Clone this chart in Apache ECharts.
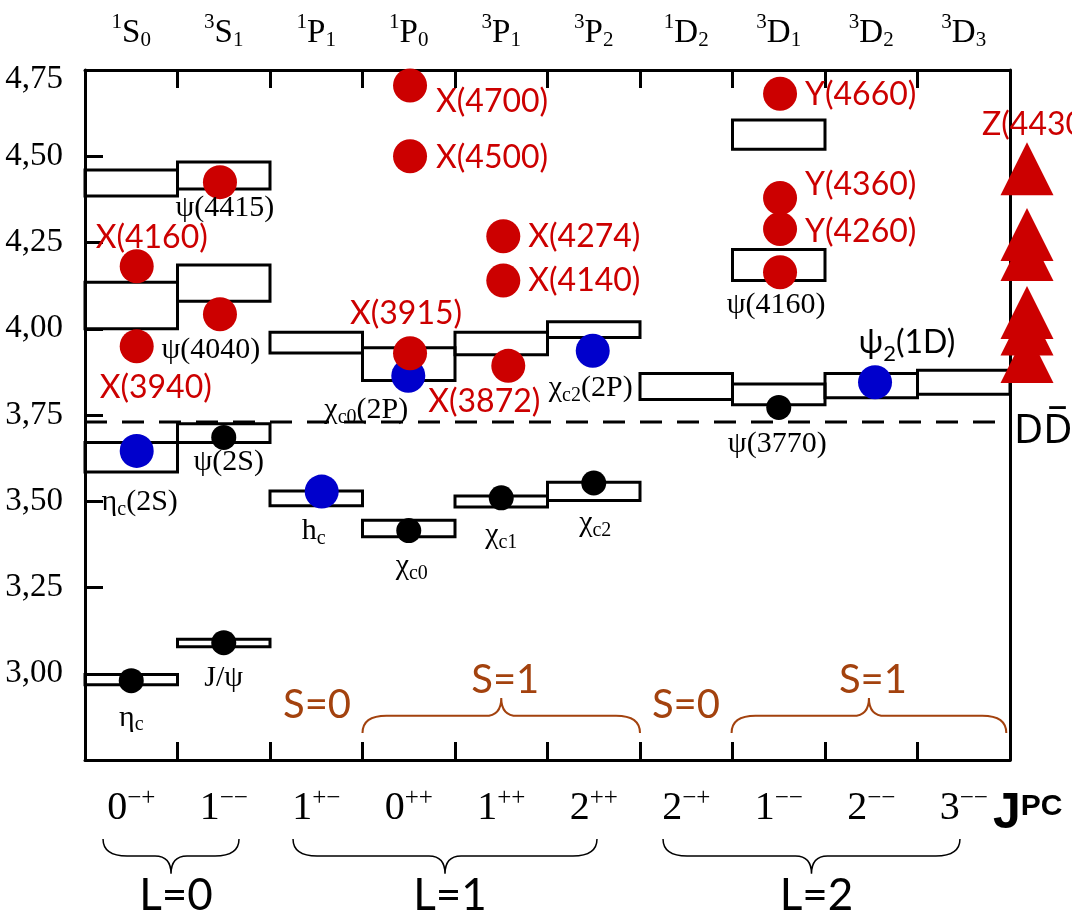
<!DOCTYPE html>
<html><head><meta charset="utf-8">
<script src="https://cdn.jsdelivr.net/npm/echarts@6/dist/echarts.min.js"></script>
<style>html,body{margin:0;padding:0;background:#fff}#c{width:1072px;height:911px}</style>
</head><body><div id="c"></div>
<script>
// ---------------- DATA ----------------
const termSymbols = [['1','S','0'],['3','S','1'],['1','P','1'],['1','P','0'],['3','P','1'],['3','P','2'],['1','D','2'],['3','D','1'],['3','D','2'],['3','D','3']];
const jpcLabels = [['0','−+'],['1','−−'],['1','+−'],['0','++'],['1','++'],['2','++'],['2','−+'],['1','−−'],['2','−−'],['3','−−']];
const massAxis = { min: 2.75, max: 4.75, step: 0.25 };
// predicted levels: [column, low mass, high mass] (GeV)
const levelBoxes = [
  [0, 4.385, 4.46], [0, 4.00, 4.135], [0, 3.585, 3.67], [0, 2.968, 2.998],
  [1, 4.405, 4.483], [1, 4.08, 4.185], [1, 3.67, 3.725], [1, 3.078, 3.10],
  [2, 3.93, 3.99], [2, 3.487, 3.53],
  [3, 3.85, 3.945], [3, 3.397, 3.445],
  [4, 3.925, 3.99], [4, 3.483, 3.515],
  [5, 3.975, 4.02], [5, 3.502, 3.555],
  [6, 3.795, 3.87],
  [7, 4.52, 4.605], [7, 4.14, 4.23], [7, 3.78, 3.84],
  [8, 3.80, 3.87],
  [9, 3.81, 3.88]
];
// [name, column position, mass]
const conventionalStates = [
  ['η_{c}', 0.5, 2.98], ['J/ψ', 1.5, 3.09], ['ψ(2S)', 1.5, 3.685],
  ['χ_{c0}', 3.5, 3.415], ['χ_{c1}', 4.5, 3.51], ['χ_{c2}', 5.5, 3.553], ['ψ(3770)', 7.5, 3.772]
];
const newConventionalStates = [
  ['η_{c}(2S)', 0.559, 3.646], ['h_{c}', 2.559, 3.528], ['χ_{c0}(2P)', 3.495, 3.8635],
  ['χ_{c2}(2P)', 5.489, 3.936], ['ψ_{2}(1D)', 8.541, 3.845]
];
const exoticStates = [
  ['X(4160)', 0.559, 4.181], ['X(3940)', 0.559, 3.949],
  ['ψ(4415)', 1.459, 4.425], ['ψ(4040)', 1.459, 4.042],
  ['X(4700)', 3.514, 4.705], ['X(4500)', 3.514, 4.50], ['X(3915)', 3.514, 3.929],
  ['X(4274)', 4.522, 4.268], ['X(4140)', 4.522, 4.14], ['X(3872)', 4.576, 3.8925],
  ['Y(4660)', 7.514, 4.681], ['Y(4360)', 7.514, 4.379], ['Y(4260)', 7.514, 4.289], ['ψ(4160)', 7.514, 4.164]
];
const chargedStateName = 'Z(4430)';
const chargedStateColumn = 10.184;
const chargedStateMasses = [4.4635, 4.273, 4.215, 4.047, 3.999, 3.9195];
const ddThreshold = 3.73;
const spinBraces = [['S=1', 3.0, 6.0], ['S=1', 6.99, 9.96]];
const spinSingles = [['S=0', 2.508], ['S=0', 6.497]];
const orbitalBraces = [['L=0', 0.195, 1.665], ['L=1', 2.249, 5.535], ['L=2', 6.249, 9.459]];

// ---------------- LAYOUT / STYLE ----------------
const RED = '#CC0000', BLUE = '#0000CC', BROWN = '#A3420E';
const SERIF = 'Liberation Serif', SANS = 'Lato';
const spinY = { end: 2.828, mid: 2.878, tip: 2.93, text: 2.981, single: 2.909 };
const orbitY = { end: 2.521, mid: 2.472, tip: 2.42, text: 2.357 };
const jpcAnchor = { x: 9.816, y: 2.594 };
// label offsets in px from marker centre: [dx, dy, align, kind]
const labelLayout = {
  'η_{c}': [0, 37, 'center', 'serif'], 'J/ψ': [0, 35, 'center', 'serif'], 'ψ(2S)': [5, 25, 'center', 'serif'],
  'χ_{c0}': [3, 36, 'center', 'serif'], 'χ_{c1}': [0, 37, 'center', 'serif'], 'χ_{c2}': [1.5, 40, 'center', 'serif'],
  'ψ(3770)': [-1.5, 37, 'center', 'serif'],
  'η_{c}(2S)': [3, 51, 'center', 'serif'], 'h_{c}': [-8, 40, 'center', 'serif'], 'χ_{c0}(2P)': [-42, 34, 'center', 'serif'],
  'χ_{c2}(2P)': [-2, 37, 'center', 'serif'], 'ψ_{2}(1D)': [32, -40, 'center', 'sans'],
  'X(4160)': [15, -29, 'center', 'red'], 'X(3940)': [19, 41, 'center', 'red'],
  'ψ(4415)': [5, 26, 'center', 'serif'], 'ψ(4040)': [-9, 36, 'center', 'serif'],
  'X(4700)': [26, 16, 'left', 'red'], 'X(4500)': [26, 1, 'left', 'red'], 'X(3915)': [-4, -40, 'center', 'red'],
  'X(4274)': [25, 0, 'left', 'red'], 'X(4140)': [25, 0, 'left', 'red'], 'X(3872)': [-24, 36, 'center', 'red'],
  'Y(4660)': [25, 1, 'left', 'red'], 'Y(4360)': [25, -13, 'left', 'red'], 'Y(4260)': [25, 3, 'left', 'red'],
  'ψ(4160)': [-4, 33, 'center', 'serif'],
  'Z(4430)': [-45, -44, 'left', 'red']
};

const richSets = {
  serif: { m: { fontFamily: SERIF, fontSize: 30, lineHeight: 32, color: '#000' },
           s: { fontFamily: SERIF, fontSize: 20, height: 17, verticalAlign: 'bottom', color: '#000' } },
  sans:  { m: { fontFamily: SANS, fontSize: 32, lineHeight: 34, color: '#000' },
           s: { fontFamily: SANS, fontSize: 22, height: 10, verticalAlign: 'bottom', color: '#000' } },
  red:   { m: { fontFamily: SANS, fontSize: 32, lineHeight: 34, color: RED },
           s: { fontFamily: SANS, fontSize: 22, height: 10, verticalAlign: 'bottom', color: RED } }
};

function richify(str) {
  const parts = str.split(/_\{([^}]*)\}/);
  let out = '';
  parts.forEach((p, i) => { if (p) out += (i % 2 ? '{s|' : '{m|') + p + '}'; });
  return out;
}

function stateData(list) {
  return list.map(([name, x, mass]) => {
    const L = labelLayout[name];
    return {
      name, value: [x, mass],
      label: {
        show: true, position: 'inside', offset: [L[0], L[1]], align: L[2], verticalAlign: 'middle',
        formatter: richify(name), rich: richSets[L[3]], color: '#000', textBorderWidth: 0, opacity: 1
      }
    };
  });
}

const topRich = {
  m: { fontFamily: SERIF, fontSize: 33, lineHeight: 36, color: '#000' },
  sup: { fontFamily: SERIF, fontSize: 21, height: 14, verticalAlign: 'top', color: '#000' },
  sub: { fontFamily: SERIF, fontSize: 21, height: 21, verticalAlign: 'bottom', color: '#000' }
};
const bottomRich = {
  m: { fontFamily: SERIF, fontSize: 40, lineHeight: 44, color: '#000' },
  sup: { fontFamily: SERIF, fontSize: 25, height: 24, verticalAlign: 'top', color: '#000' }
};

function bracePath(x1, x2, yE, yH, yT, d1, d2) {
  const xc = (x1 + x2) / 2;
  return `M${x1} ${yE} Q${x1} ${yH} ${x1 + d1} ${yH} L${xc - d2} ${yH} Q${xc} ${yH} ${xc} ${yT} ` +
         `Q${xc} ${yH} ${xc + d2} ${yH} L${x2 - d1} ${yH} Q${x2} ${yH} ${x2} ${yE}`;
}

function braceSeries(list, Y, color, width, font, textDx) {
  return {
    type: 'custom', xAxisIndex: 0, yAxisIndex: 0, silent: true, clip: false,
    data: list.map(b => [b[1], b[2], Y.tip]),
    encode: { x: [0, 1], y: 2 },
    renderItem(params, api) {
      const a = api.coord([api.value(0), Y.end]);
      const b = api.coord([api.value(1), Y.end]);
      const yH = api.coord([0, Y.mid])[1];
      const yT = api.coord([0, Y.tip])[1];
      const yText = api.coord([0, Y.text])[1];
      const xc = (a[0] + b[0]) / 2;
      return {
        type: 'group', children: [
          { type: 'path', shape: { pathData: bracePath(a[0], b[0], a[1], yH, yT, 24, 16) },
            style: { fill: 'none', stroke: color, lineWidth: width } },
          { type: 'text', x: xc + textDx, y: yText,
            style: { text: list[params.dataIndex][0], font: font, fill: color, align: 'center', verticalAlign: 'middle' } }
        ]
      };
    }
  };
}

const option = {
  animation: false,
  backgroundColor: '#fff',
  grid: { left: 85, right: 62, top: 70, bottom: 151, containLabel: false, outerBoundsMode: 'none' },
  xAxis: [
    { type: 'value', min: 0, max: 10, show: false, position: 'bottom' },
    { type: 'category', position: 'bottom', boundaryGap: true,
      data: jpcLabels.map(j => `{m|${j[0]}}{sup|${j[1]}}`),
      axisLine: { show: true, onZero: false, lineStyle: { color: '#000', width: 3 } },
      axisTick: { show: true, inside: true, length: 18, lineStyle: { color: '#000', width: 3 } },
      axisLabel: { interval: 0, margin: 26, rich: bottomRich, color: '#000' },
      splitLine: { show: false } },
    { type: 'category', position: 'top', boundaryGap: true,
      data: termSymbols.map(t => `{sup|${t[0]}}{m|${t[1]}}{sub|${t[2]}}`),
      axisLine: { show: true, onZero: false, lineStyle: { color: '#000', width: 3 } },
      axisTick: { show: true, inside: true, length: 18, lineStyle: { color: '#000', width: 3 } },
      axisLabel: { interval: 0, margin: 19, rich: topRich, color: '#000' },
      splitLine: { show: false } }
  ],
  yAxis: [
    { type: 'value', position: 'left', min: massAxis.min, max: massAxis.max, interval: massAxis.step,
      axisLine: { show: true, onZero: false, lineStyle: { color: '#000', width: 3 } },
      axisTick: { show: true, inside: true, length: 18, lineStyle: { color: '#000', width: 3 } },
      splitLine: { show: false },
      axisLabel: { margin: 22, color: '#000', fontFamily: SERIF, fontSize: 33,
        formatter: v => {
          if (Math.abs(v - massAxis.min) < 1e-6) return '';
          const s = v.toFixed(2).replace('.', ',');
          return Math.abs(v - massAxis.max) < 1e-6 ? `{t|${s}}` : s;
        },
        rich: { t: { fontFamily: SERIF, fontSize: 33, color: '#000', padding: [19, 0, 0, 0] } } } },
    { type: 'value', position: 'right', min: massAxis.min, max: massAxis.max, interval: massAxis.step,
      axisLine: { show: true, onZero: false, lineStyle: { color: '#000', width: 3 } },
      axisTick: { show: false }, axisLabel: { show: false }, splitLine: { show: false } }
  ],
  series: [
    { type: 'custom', name: 'levels', xAxisIndex: 0, yAxisIndex: 0, silent: true,
      data: levelBoxes, encode: { x: 0, y: [1, 2] },
      renderItem(params, api) {
        const col = api.value(0);
        const p1 = api.coord([col, api.value(2)]);
        const p2 = api.coord([col + 1, api.value(1)]);
        return { type: 'rect', shape: { x: p1[0], y: p1[1], width: p2[0] - p1[0], height: p2[1] - p1[1] },
                 style: { fill: 'none', stroke: '#000', lineWidth: 3 } };
      } },
    { type: 'line', name: 'DD threshold', xAxisIndex: 0, yAxisIndex: 0, silent: true, symbol: 'none',
      data: [[0, ddThreshold], [10, ddThreshold]],
      lineStyle: { color: '#000', width: 3, type: [22, 15], opacity: 1 },
      endLabel: { show: true, formatter: 'DD\u0305', fontFamily: 'Noto Sans', fontSize: 40, color: '#000',
                  distance: 4, offset: [0, 10] } },
    braceSeries(spinBraces, spinY, BROWN, 2, `40px ${SANS}`, 4),
    braceSeries(orbitalBraces, orbitY, '#000', 1.5, `44px ${SANS}`, 5),
    { type: 'custom', xAxisIndex: 0, yAxisIndex: 0, silent: true, clip: false,
      data: spinSingles.map(s => [s[1], spinY.single]), encode: { x: 0, y: 1 },
      renderItem(params, api) {
        const p = api.coord([api.value(0), api.value(1)]);
        return { type: 'text', x: p[0], y: p[1],
          style: { text: spinSingles[params.dataIndex][0], font: `40px ${SANS}`, fill: BROWN, align: 'center', verticalAlign: 'middle' } };
      } },
    { type: 'custom', xAxisIndex: 0, yAxisIndex: 0, silent: true, clip: false,
      data: [[jpcAnchor.x, jpcAnchor.y]], encode: { x: 0, y: 1 },
      renderItem(params, api) {
        const p = api.coord([api.value(0), api.value(1)]);
        return { type: 'text', x: p[0], y: p[1],
          style: { text: '{j|J}{p|PC}', align: 'left', verticalAlign: 'middle',
            rich: { j: { fontFamily: 'Liberation Sans', fontWeight: 'bold', fontSize: 50, lineHeight: 52, fill: '#000', color: '#000' },
                    p: { fontFamily: 'Liberation Sans', fontWeight: 'bold', fontSize: 30, height: 37, verticalAlign: 'top', fill: '#000', color: '#000' } } } };
      } },
    { type: 'scatter', name: 'conventional', xAxisIndex: 0, yAxisIndex: 0, silent: true, symbolSize: 25,
      itemStyle: { color: '#000', opacity: 1 }, data: stateData(conventionalStates) },
    { type: 'scatter', name: 'new conventional', xAxisIndex: 0, yAxisIndex: 0, silent: true, symbolSize: 34,
      itemStyle: { color: BLUE, opacity: 1 }, data: stateData(newConventionalStates) },
    { type: 'scatter', name: 'exotic', xAxisIndex: 0, yAxisIndex: 0, silent: true, symbolSize: 34,
      itemStyle: { color: RED, opacity: 1 }, data: stateData(exoticStates) },
    { type: 'scatter', name: 'charged', xAxisIndex: 0, yAxisIndex: 0, silent: true, clip: false,
      symbol: 'triangle', symbolSize: [53, 53], itemStyle: { color: RED, opacity: 1 },
      data: chargedStateMasses.map((m, i) => {
        if (i > 0) return [chargedStateColumn, m];
        const L = labelLayout[chargedStateName];
        return { name: chargedStateName, value: [chargedStateColumn, m],
          label: { show: true, position: 'inside', offset: [L[0], L[1]], align: L[2], verticalAlign: 'middle',
                   formatter: richify(chargedStateName), rich: richSets[L[3]], color: RED, textBorderWidth: 0, opacity: 1 } };
      }) }
  ]
};
const chart = echarts.init(document.getElementById('c'), null, { renderer: 'canvas', width: 1072, height: 911 });
chart.setOption(option);
</script></body></html>
